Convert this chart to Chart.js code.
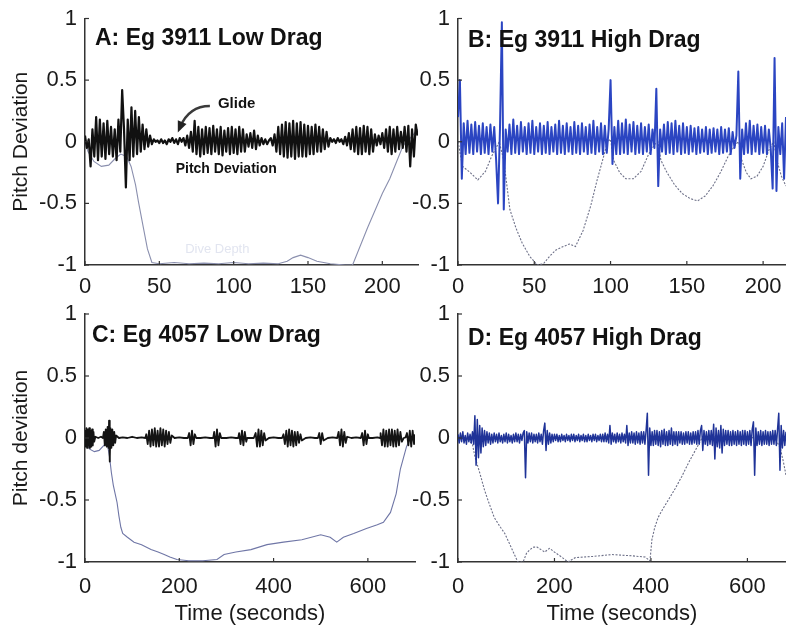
<!DOCTYPE html>
<html>
<head>
<meta charset="utf-8">
<script src="https://cdn.jsdelivr.net/npm/chart.js@4.4.0/dist/chart.umd.min.js"></script>
<style>
  html, body { margin: 0; padding: 0; background: #fff; }
  #wrap { position: relative; width: 786px; height: 627px; overflow: hidden; background: #fff; }
  #wrap canvas { position: absolute; left: 0; top: 0; }
</style>
</head>
<body>
<div id="wrap">
  <canvas id="chartA" width="786" height="627"></canvas>
  <canvas id="chartC" width="786" height="627"></canvas>
  <canvas id="chartB" width="786" height="627"></canvas>
  <canvas id="chartD" width="786" height="627"></canvas>
</div>
<script>
// ---- panel A: Eg 3911 low drag (pitch sampled every 1.25 s) ----
const stepA = 1.25;
const pitchA = [
  0.05, -0.05, 0.02, -0.2,
  0.1, -0.12, 0.2, -0.15, 0.18, -0.12, 0.15, -0.14, 0.17, -0.1, 0.12, -0.12, 0.1, -0.15, 0.18, -0.08,
  0.42, 0.1, -0.37, 0.18, -0.15, 0.28, -0.12, 0.25, -0.1, 0.2, -0.08, 0.14, -0.06, 0.1, -0.04, 0.05, -0.02,
  0.02, 0, 0.01, -0.01, 0.02, -0.01, 0.01, -0.02, 0.02, 0, 0.03, -0.01, 0.02, -0.02, 0.03, 0, 0.03, -0.03, 0.05, -0.05, 0.08,
  -0.08, 0.17, -0.1,
  0.12, -0.12, 0.1, -0.1, 0.12, -0.09, 0.11, -0.1, 0.13, -0.08, 0.1, -0.1, 0.12, -0.11, 0.09, -0.08, 0.11, -0.1, 0.12, -0.09, 0.1, -0.1, 0.12, -0.08, 0.1, -0.08,
  0.06, -0.04, 0.07, -0.05, 0.09, -0.06, 0.05, -0.03, 0.03,
  -0.02, 0.02, -0.02, 0.01, 0.03, -0.03,
  0.06, -0.08, 0.12, -0.1, 0.14, -0.12, 0.16, -0.13, 0.15, -0.12, 0.17, -0.14, 0.15, -0.12, 0.16, -0.12, 0.14, -0.12, 0.13, -0.1, 0.12, -0.1, 0.14, -0.08, 0.12, -0.08, 0.1, -0.06, 0.08, -0.04,
  0.03, 0, 0.02, -0.01, 0.03, 0, 0.02, -0.02, 0.04, -0.03,
  0.07, -0.06, 0.1, -0.08, 0.12, -0.1, 0.11, -0.1, 0.13, -0.08, 0.12, -0.1, 0.1, -0.08, 0.06, -0.03, 0.05, -0.02, 0.07, -0.05, 0.1, -0.08, 0.12, -0.1, 0.1, -0.08, 0.12, -0.06, 0.08, -0.05,
  0.12, -0.08, 0.13, -0.2, 0.1, -0.12, 0.14, 0.05
];
const depthTimeA = [0, 2, 6, 11, 16, 20, 24, 28, 31, 34, 36, 39, 42, 45, 50, 60, 70, 80, 90, 100,
  110, 120, 130, 136, 140, 145, 150, 156, 165, 175, 180, 190, 200, 205, 210, 214, 218, 224];
const depthA = [0, -0.08, -0.16, -0.2, -0.19, -0.14, -0.1, -0.12, -0.2, -0.35, -0.49, -0.68, -0.87, -0.98, -0.99, -0.98, -0.99, -0.985, -0.99, -0.98,
  -0.99, -0.985, -0.99, -0.97, -0.94, -0.92, -0.94, -0.97, -0.99, -1, -1, -0.7, -0.42, -0.3, -0.15, -0.03, 0.02, 0.1];

// ---- panel B: Eg 3911 high drag ----
const stepB = 1.25;
const pitchB = [
  0.2, 0.5, -0.3, 0.15, -0.1,
  0.17, -0.09, 0.14, -0.1, 0.16, -0.08, 0.13, -0.1, 0.15, -0.09, 0.12, -0.1, 0.14, -0.08, 0.12,
  -0.15, -0.5, 0.1, 0.97, -0.55, 0.1, -0.08,
  0.14, -0.1, 0.18, -0.09, 0.13, -0.1, 0.16, -0.08, 0.12, -0.1,
  0.15, -0.09, 0.17, -0.1, 0.12, -0.08, 0.15, -0.1, 0.13, -0.09,
  0.16, -0.1, 0.12, -0.08, 0.14, -0.1, 0.17, -0.09, 0.13, -0.1,
  0.15, -0.08, 0.12, -0.1, 0.16, -0.09, 0.13, -0.1, 0.15, -0.08,
  0.12, -0.1, 0.14, -0.09, 0.17, -0.1, 0.12, -0.08, 0.15, -0.1,
  0.13, -0.09, 0.1,
  0.5, -0.18, 0.12, -0.1,
  0.17, -0.1, 0.15, -0.09, 0.18, -0.1, 0.14, -0.08, 0.16, -0.1, 0.13, -0.09, 0.15, -0.1, 0.12, -0.08, 0.14, -0.1, 0.1, -0.05,
  0.43, -0.36, 0.1, -0.08,
  0.14, -0.1, 0.16, -0.09, 0.15, -0.1, 0.17, -0.08, 0.13, -0.1,
  0.15, -0.09, 0.12, -0.1, 0.13, -0.08, 0.11, -0.1, 0.12, -0.09,
  0.1, -0.08, 0.12, -0.1, 0.1, -0.09, 0.11, -0.08, 0.1, -0.1,
  0.12, -0.09, 0.1, -0.08, 0.11, -0.1, 0.08, -0.05,
  0.05, 0.57, -0.3, 0.1, -0.1,
  0.15, -0.09, 0.17, -0.1, 0.13, -0.08, 0.14, -0.1, 0.12, -0.09, 0.13, -0.1, 0.1, -0.06,
  -0.38, 0.68, -0.4, 0.12, -0.1, 0.15, -0.3, 0.2
];
const depthTimeB = [0, 3, 8, 13, 18, 22, 25, 27, 30, 34, 38, 42, 47, 52, 56, 60, 64, 69, 73, 77,
  82, 87, 91, 95, 98, 100, 102, 106, 110, 115, 120, 125, 129, 131, 133, 137, 142, 147, 152, 157,
  162, 167, 172, 177, 182, 184, 186, 189, 192, 196, 200, 204, 207, 209, 212, 215];
const depthB = [0, -0.2, -0.25, -0.31, -0.24, -0.12, -0.05, 0, -0.15, -0.55, -0.7, -0.82, -0.93, -1, -0.99, -0.93, -0.88, -0.85, -0.83, -0.85,
  -0.72, -0.52, -0.32, -0.14, 0, 0.02, -0.15, -0.25, -0.3, -0.3, -0.24, -0.1, -0.02, 0, -0.15, -0.25, -0.35, -0.42, -0.46, -0.48,
  -0.44, -0.36, -0.25, -0.12, -0.02, 0, -0.15, -0.25, -0.3, -0.28, -0.2, -0.06, 0, -0.15, -0.28, -0.36];

// ---- panel C: Eg 4057 low drag ----
const pitchTimeC = [
  0, 1.5, 3, 4.5, 6, 7.5, 9, 10.5, 12, 13.5, 15, 16.5, 18, 19.5,
  22, 28, 34, 38,
  40, 42, 44, 46, 48, 50, 51, 52.5, 54, 56, 58, 60, 62, 64, 66,
  72, 80, 90, 100, 110, 120, 128,
  130, 133, 136, 139, 142, 145, 148, 151, 154, 157, 160, 163, 166, 169, 172, 175, 178, 181, 184,
  190, 200, 210, 218,
  221, 224, 227, 230, 233, 236,
  245, 255, 265, 272,
  274, 277, 280, 283, 286, 289,
  300, 310, 320, 325,
  327, 330, 333, 336, 339, 342, 344,
  350, 358,
  362, 365, 368, 371, 374, 377, 380, 383,
  390, 400, 410, 418,
  421, 424, 427, 430, 433, 436, 439, 442, 445, 448, 451, 454, 457, 460,
  468, 478, 488, 494,
  497, 500, 503, 506,
  515, 525, 535,
  538, 541, 544, 547, 550, 553, 556,
  565, 575, 585,
  588, 591, 594, 597, 600, 602,
  610, 620, 626,
  627, 630, 633, 636, 639, 642, 645, 648, 651, 654, 657, 660, 663, 666, 669, 672,
  676, 680,
  683, 686, 689, 692, 695, 698, 700
];
const pitchC = [
  0.06, -0.07, 0.08, -0.08, 0.07, -0.06, 0.08, -0.08, 0.06, -0.07, 0.07, -0.06, 0.05, -0.03,
  0.01, 0, 0.01, 0,
  0.05, -0.06, 0.07, -0.07, 0.09, -0.08, 0.14, -0.19, 0.08, -0.08, 0.07, -0.06, 0.05, -0.04, 0.02,
  0, 0.005, 0, 0.01, 0, 0.005, 0,
  0.03, -0.05, 0.06, -0.07, 0.07, -0.06, 0.08, -0.07, 0.06, -0.07, 0.08, -0.06, 0.07, -0.07, 0.06, -0.05, 0.05, -0.04, 0.02,
  0, 0.005, 0, 0,
  0.04, -0.06, 0.06, -0.05, 0.03, 0,
  0, 0.005, 0, 0,
  0.05, -0.07, 0.07, -0.06, 0.04, 0,
  0, 0.005, 0, 0,
  0.04, -0.05, 0.06, -0.06, 0.05, -0.03, 0,
  0, 0,
  0.04, -0.07, 0.07, -0.07, 0.06, -0.06, 0.04, -0.02,
  0, 0.005, 0, 0,
  0.03, -0.05, 0.06, -0.07, 0.07, -0.06, 0.06, -0.07, 0.05, -0.06, 0.05, -0.04, 0.03, -0.02,
  0, 0.005, 0, 0,
  0.04, -0.05, 0.04, -0.02,
  0, 0.005, 0,
  0.05, -0.06, 0.07, -0.07, 0.05, -0.04, 0.01,
  0, 0.005, 0,
  0.04, -0.06, 0.06, -0.05, 0.03, 0,
  0, 0.005, 0,
  0.04, -0.06, 0.07, -0.07, 0.06, -0.07, 0.07, -0.06, 0.07, -0.07, 0.06, -0.07, 0.07, -0.06, 0.05, -0.03,
  0, 0.005,
  0.04, -0.06, 0.06, -0.07, 0.06, -0.05, 0.03
];
const depthTimeC = [0, 5, 10, 20, 30, 40, 47, 52, 56, 60, 64, 68, 72, 76, 80, 90, 104, 120, 140, 155,
  168, 180, 195, 220, 250, 280, 295, 320, 352, 386, 421, 460, 500, 520, 534, 548, 570, 597, 620, 633,
  648, 660, 669, 682, 690, 700];
const depthC = [0, -0.05, -0.09, -0.11, -0.1, -0.06, -0.04, -0.15, -0.28, -0.38, -0.45, -0.52, -0.63, -0.72, -0.77, -0.8, -0.84, -0.86, -0.9, -0.92,
  -0.94, -0.96, -0.98, -0.99, -0.99, -0.98, -0.94, -0.92, -0.9, -0.86, -0.84, -0.82, -0.78, -0.8, -0.84, -0.8, -0.77, -0.73, -0.7, -0.68,
  -0.6, -0.45, -0.25, -0.07, 0, 0.02];

// ---- panel D: Eg 4057 high drag (pitch sampled every 2.5 s) ----
const stepD = 2.5;
const pitchD = [
  0.03, -0.04, 0.04, -0.03, 0.05, -0.04, 0.02, -0.05, 0.04, -0.03,
  0.03, -0.04, 0.05, -0.05, 0.18, -0.22, 0.15, -0.16, 0.1, -0.12,
  0.08, -0.07, 0.06, -0.06, 0.05, -0.04, 0.04, -0.05, 0.03, -0.04,
  0.04, -0.03, 0.03, -0.04, 0.04, -0.03, 0.02, -0.04, 0.03, -0.03,
  0.04, -0.04, 0.03, -0.03, 0.02, -0.04, 0.03, -0.03, 0.04, -0.03,
  0.03, -0.04, 0.03, -0.02, 0.04, 0.06, -0.32, 0.05, -0.04, 0.04,
  -0.03, 0.04, -0.04, 0.03, -0.03, 0.03, -0.04, 0.04, -0.03, 0.03,
  -0.05, 0.06, 0.12, -0.1, 0.06, -0.05, 0.04, -0.04, 0.03, -0.03,
  0.03, -0.02, 0.03, -0.03, 0.02, -0.03, 0.03, -0.02, 0.02, -0.03,
  0.03, -0.02, 0.02, -0.03, 0.03, -0.02, 0.03, -0.03, 0.02, -0.02,
  0.03, -0.03, 0.02, -0.02, 0.03, -0.03, 0.02, -0.03, 0.03, -0.02,
  0.02, -0.03, 0.03, -0.02, 0.03, -0.03, 0.02, -0.02, 0.03, -0.03,
  0.03, -0.03, 0.04, -0.03, 0.03, -0.04, 0.1, -0.05, 0.04, -0.03,
  0.03, -0.04, 0.04, -0.03, 0.03, -0.04, 0.04, -0.03, 0.03, -0.04,
  0.1, -0.06, 0.04, -0.04, 0.05, -0.04, 0.04, -0.05, 0.05, -0.04,
  0.04, -0.05, 0.05, -0.04, 0.05, -0.05, 0.06, 0.2, -0.3, 0.08,
  -0.06, 0.05, -0.06, 0.06, -0.05, 0.06, -0.06, 0.05, -0.07, 0.06,
  -0.05, 0.07, -0.06, 0.05, -0.06, 0.06, -0.05, 0.08, -0.06, 0.05,
  -0.05, 0.05, -0.06, 0.05, -0.04, 0.05, -0.05, 0.04, -0.05, 0.05,
  -0.04, 0.05, -0.05, 0.04, -0.05, 0.05, -0.04, 0.05, -0.05, 0.06,
  -0.05, 0.06, 0.1, -0.1, 0.06, -0.05, 0.05, -0.06, 0.06, -0.05,
  0.06, -0.06, 0.11, -0.17, 0.08, -0.07, 0.06, -0.08, 0.1, -0.12,
  0.07, -0.06, 0.06, -0.05, 0.06, -0.06, 0.05, -0.06, 0.06, -0.05,
  0.05, -0.06, 0.06, -0.05, 0.05, -0.06, 0.06, -0.05, 0.06, -0.06,
  0.05, -0.05, 0.06, -0.06, 0.07, 0.13, -0.3, 0.08, -0.06, 0.05,
  -0.05, 0.06, -0.06, 0.05, -0.05, 0.06, -0.05, 0.05, -0.06, 0.05,
  -0.05, 0.06, -0.05, 0.06, -0.06, 0.07, 0.2, -0.26, 0.1, -0.08,
  0.06, -0.06, 0.05
];
const depthTimeD = [0, 10, 20, 30, 35, 45, 55, 62, 75, 88, 97, 110, 124, 135, 142, 149, 157, 164, 172, 180,
  186, 190, 200, 215, 228, 243, 280, 319, 360, 388, 398, 402, 408, 415, 425, 436, 450, 464, 478, 492,
  506, 540, 600, 640, 660, 668, 675, 680];
const depthD = [0, 0.01, -0.01, -0.05, -0.15, -0.28, -0.42, -0.5, -0.64, -0.72, -0.77, -0.88, -1, -1, -0.93, -0.9, -0.88, -0.88, -0.9, -0.92,
  -0.9, -0.89, -0.92, -0.96, -1, -0.965, -0.955, -0.94, -0.95, -0.96, -0.99, -0.82, -0.72, -0.64, -0.57, -0.5, -0.41, -0.31, -0.2, -0.1,
  0, 0.01, 0, 0.01, -0.02, -0.08, -0.2, -0.3];

const FONT = "'Liberation Sans', Arial, sans-serif";
const INK = '#1a1a1a';

function stepPoints(values, step) {
  return values.map((v, i) => ({ x: i * step, y: v }));
}
function pairPoints(times, values) {
  return times.map((t, i) => ({ x: t, y: values[i] }));
}

// titles, notes and inward tick marks
const panelDecor = {
  id: 'panelDecor',
  afterDraw(chart, args, opts) {
    const { ctx, chartArea, scales } = chart;
    ctx.save();
    ctx.strokeStyle = '#333';
    ctx.lineWidth = 1.2;
    scales.x.ticks.forEach(t => {
      const px = scales.x.getPixelForValue(t.value);
      ctx.beginPath();
      ctx.moveTo(px, chartArea.bottom);
      ctx.lineTo(px, chartArea.bottom - 4);
      ctx.stroke();
    });
    scales.y.ticks.forEach(t => {
      const py = scales.y.getPixelForValue(t.value);
      ctx.beginPath();
      ctx.moveTo(chartArea.left, py);
      ctx.lineTo(chartArea.left + 4, py);
      ctx.stroke();
    });

    ctx.fillStyle = '#111';
    ctx.font = 'bold 23px ' + FONT;
    ctx.textAlign = 'left';
    ctx.textBaseline = 'alphabetic';
    ctx.fillText(opts.title, chartArea.left + opts.titleDx, chartArea.top + opts.titleDy);

    (opts.notes || []).forEach(n => {
      ctx.font = n.font + ' ' + FONT;
      ctx.fillStyle = n.color || '#111';
      ctx.textAlign = 'center';
      ctx.textBaseline = 'middle';
      ctx.fillText(n.text, scales.x.getPixelForValue(n.x), scales.y.getPixelForValue(n.y));
    });

    if (opts.arrow) {
      const a = opts.arrow;
      const p = (x, y) => [scales.x.getPixelForValue(x), scales.y.getPixelForValue(y)];
      const [x0, y0] = p(a.from[0], a.from[1]);
      const [cx, cy] = p(a.ctrl[0], a.ctrl[1]);
      const [x1, y1] = p(a.to[0], a.to[1]);
      ctx.strokeStyle = '#3a3a3a';
      ctx.lineWidth = 2.5;
      ctx.beginPath();
      ctx.moveTo(x0, y0);
      ctx.quadraticCurveTo(cx, cy, x1, y1);
      ctx.stroke();
      const ang = Math.atan2(y1 - cy, x1 - cx);
      ctx.fillStyle = '#222';
      ctx.beginPath();
      ctx.moveTo(x1 + 6 * Math.cos(ang), y1 + 6 * Math.sin(ang));
      ctx.lineTo(x1 + 7 * Math.cos(ang + 2.4), y1 + 7 * Math.sin(ang + 2.4));
      ctx.lineTo(x1 + 7 * Math.cos(ang - 2.4), y1 + 7 * Math.sin(ang - 2.4));
      ctx.closePath();
      ctx.fill();
    }
    ctx.restore();
  }
};

function makeChart(id, cfg) {
  const tickFont = { family: FONT, size: 22 };
  return new Chart(document.getElementById(id), {
    type: 'line',
    data: {
      datasets: [
        {
          data: cfg.depth,
          borderColor: cfg.depthColor,
          borderWidth: 1.1,
          borderDash: cfg.depthDash,
          pointRadius: 0,
          order: 2,
        },
        {
          data: cfg.pitch,
          borderColor: cfg.pitchColor,
          borderWidth: cfg.pitchWidth,
          borderJoinStyle: 'round',
          pointRadius: 0,
          order: 1,
        },
      ],
    },
    options: {
      responsive: false,
      animation: false,
      events: [],
      layout: { padding: cfg.padding },
      plugins: {
        legend: { display: false },
        tooltip: { enabled: false },
        panelDecor: cfg.decor,
      },
      scales: {
        x: {
          type: 'linear',
          min: 0,
          max: cfg.xMax,
          ticks: { stepSize: cfg.xStep, includeBounds: false, padding: cfg.xPad, maxRotation: 0, font: tickFont, color: INK },
          grid: { drawOnChartArea: false, drawTicks: false },
          border: { color: '#333', width: 1.5 },
          title: { display: !!cfg.xTitle, text: cfg.xTitle || '', color: INK, font: { family: FONT, size: 22 }, padding: { top: 0, bottom: 0 } },
          afterFit(s) { s.height = cfg.xH; s.paddingLeft = 0; s.paddingRight = 0; },
        },
        y: {
          type: 'linear',
          min: -1,
          max: 1,
          ticks: { stepSize: 0.5, padding: 8, font: tickFont, color: INK, callback: v => String(v) },
          grid: { drawOnChartArea: false, drawTicks: false },
          border: { color: '#333', width: 1.5 },
          title: { display: !!cfg.yTitle, text: cfg.yTitle || '', color: INK, font: { family: FONT, size: 21 }, padding: { top: 4, bottom: 0 } },
          afterFit(s) { s.width = cfg.yW; s.paddingTop = 0; s.paddingBottom = 0; },
        },
      },
    },
    plugins: [panelDecor],
  });
}

makeChart('chartA', {
  pitch: stepPoints(pitchA, stepA),
  depth: pairPoints(depthTimeA, depthA),
  pitchColor: '#111111', pitchWidth: 2.2, depthColor: '#8a8fae', depthDash: [],
  xMax: 224, xStep: 50, xPad: 9, xH: 40, yW: 80, yTitle: 'Pitch Deviation',
  padding: { left: 5, right: 368, top: 18.5, bottom: 322 },
  decor: {
    title: 'A: Eg 3911 Low Drag', titleDx: 10, titleDy: 26.5,
    notes: [
      { text: 'Glide', x: 102, y: 0.31, font: 'bold 15px' },
      { text: 'Pitch Deviation', x: 95, y: -0.225, font: 'bold 14px' },
      { text: 'Dive Depth', x: 89, y: -0.87, font: '13px', color: '#e2e5f0' },
    ],
    arrow: { from: [84, 0.29], ctrl: [70, 0.29], to: [64, 0.12] },
  },
});

makeChart('chartB', {
  pitch: stepPoints(pitchB, stepB),
  depth: pairPoints(depthTimeB, depthB),
  pitchColor: '#2b45c2', pitchWidth: 2, depthColor: '#6d7088', depthDash: [2, 1.5],
  xMax: 215, xStep: 50, xPad: 9, xH: 40, yW: 60,
  padding: { left: 398, right: 0, top: 18.5, bottom: 322 },
  decor: { title: 'B: Eg 3911 High Drag', titleDx: 10, titleDy: 28 },
});

makeChart('chartC', {
  pitch: pairPoints(pitchTimeC, pitchC),
  depth: pairPoints(depthTimeC, depthC),
  pitchColor: '#141414', pitchWidth: 1.8, depthColor: '#6f76a6', depthDash: [],
  xMax: 700, xStep: 200, xPad: 12, xH: 65, yW: 80, yTitle: 'Pitch deviation', xTitle: 'Time (seconds)',
  padding: { left: 5, right: 371, top: 314, bottom: 0 },
  decor: { title: 'C: Eg 4057 Low Drag', titleDx: 7, titleDy: 28 },
});

makeChart('chartD', {
  pitch: stepPoints(pitchD, stepD),
  depth: pairPoints(depthTimeD, depthD),
  pitchColor: '#1f3398', pitchWidth: 1.5, depthColor: '#6d7088', depthDash: [2, 1.5],
  xMax: 680, xStep: 200, xPad: 12, xH: 65, yW: 60, xTitle: 'Time (seconds)',
  padding: { left: 398, right: 0, top: 314, bottom: 0 },
  decor: { title: 'D: Eg 4057 High Drag', titleDx: 10, titleDy: 31 },
});
</script>
</body>
</html>
